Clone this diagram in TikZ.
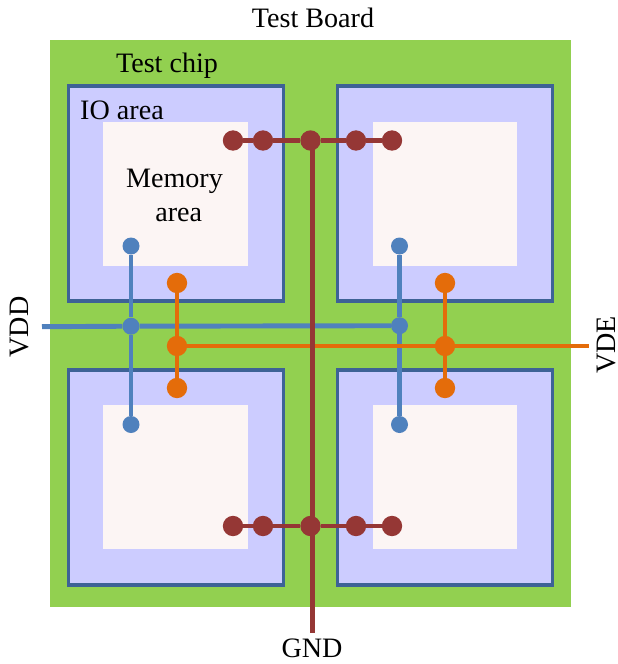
\documentclass[tikz,border=0pt]{standalone}
\usepackage{fontspec}
\setmainfont{Liberation Serif}
\definecolor{boardgreen}{HTML}{92D050}
\definecolor{chipblue}{HTML}{CCCCFF}
\definecolor{chipline}{HTML}{3D6296}
\definecolor{memwhite}{HTML}{FCF5F4}
\definecolor{vddblue}{HTML}{4F81BD}
\definecolor{vdeorange}{HTML}{E46C0A}
\definecolor{gndred}{HTML}{953735}
\tikzstyle{board}=[shape=rectangle,fill=boardgreen,inner sep=0pt,minimum width=15.63cm,minimum height=17.01cm]
\tikzstyle{chip}=[shape=rectangle,fill=chipblue,draw=chipline,line width=2.6pt,inner sep=0pt,minimum width=6.47cm,minimum height=6.45cm]
\tikzstyle{memory}=[shape=rectangle,fill=memwhite,inner sep=0pt,minimum width=4.33cm,minimum height=4.33cm]
\tikzstyle{label}=[font=\fontsize{24}{29}\selectfont,inner sep=0pt,align=center]
\tikzstyle{vddpad}=[shape=circle,fill=vddblue,inner sep=0pt,minimum size=0.51cm]
\tikzstyle{vdepad}=[shape=circle,fill=vdeorange,inner sep=0pt,minimum size=0.61cm]
\tikzstyle{gndpad}=[shape=circle,fill=gndred,inner sep=0pt,minimum size=0.61cm]
\tikzstyle{vddedge}=[draw=vddblue,line width=4.2pt]
\tikzstyle{vdeedge}=[draw=vdeorange,line width=4.1pt]
\tikzstyle{gndedge}=[draw=gndred,line width=4.1pt]

\begin{document}
\begin{tikzpicture}[x=0.03cm,y=-0.03cm]
\useasboundingbox (0,0) rectangle (618,664);
\node[board] (b0) at (310.5,323.5){};

\node[chip] (c1) at (176,193.5){};
\node[chip] (c2) at (445,193.5){};
\node[chip] (c3) at (176,477.5){};
\node[chip] (c4) at (445,477.5){};

\node[memory] (m1) at (175.5,194){};
\node[memory] (m2) at (445,194){};
\node[memory] (m3) at (175.5,477){};
\node[memory] (m4) at (445,477){};

\node[label] (tboard) at (313,18){Test Board};
\node[label] (tchip) at (167,66){Test chip};
\node[label] (tio) at (122,110.5){IO area};
\node[label] (tmem) at (174.5,195){Memory\\\hspace*{0.25cm}area};
\node[label,rotate=90] (tvdd) at (19.5,327){VDD};
\node[label,rotate=90] (tvde) at (606.5,345){VDE};
\node[label] (tgnd) at (312,648){GND};

% supply VDD
\coordinate (vddin) at (42,326.7);
\node[vddpad] (d1) at (131,246){};
\node[vddpad] (d2) at (131,326.2){} edge[vddedge] (d1) edge[vddedge] (vddin);
\node[vddpad] (d3) at (131,424.5){} edge[vddedge] (d2);
\node[vddpad] (d4) at (399.5,246){};
\node[vddpad] (d5) at (399.5,325.7){} edge[vddedge] (d4) edge[vddedge] (d2);
\node[vddpad] (d6) at (399.5,424.5){} edge[vddedge] (d5);

% supply VDE
\coordinate (vdein) at (589,346);
\node[vdepad] (e1) at (177,283){};
\node[vdepad] (e2) at (177,346){} edge[vdeedge] (e1);
\node[vdepad] (e3) at (177,388){} edge[vdeedge] (e2);
\node[vdepad] (e4) at (445,283){};
\node[vdepad] (e5) at (445,346){} edge[vdeedge] (e4) edge[vdeedge] (e2) edge[vdeedge] (vdein);
\node[vdepad] (e6) at (445,388){} edge[vdeedge] (e5);

% ground
\coordinate (gndin) at (312.3,633);
\coordinate (gndtop) at (312.3,140);
\node[gndpad] (g1) at (233,140.5){};
\node[gndpad] (g2) at (263,140.5){} edge[gndedge] (g1);
\node[gndpad] (g3) at (310.5,140.5){} edge[gndedge] (g2);
\node[gndpad] (g4) at (356,140.5){} edge[gndedge] (g3);
\node[gndpad] (g5) at (392,140.5){} edge[gndedge] (g4);
\node[gndpad] (g6) at (233,526){};
\node[gndpad] (g7) at (263,526){} edge[gndedge] (g6);
\node[gndpad] (g8) at (310.5,526){} edge[gndedge] (g7);
\node[gndpad] (g9) at (356,526){} edge[gndedge] (g8);
\node[gndpad] (g10) at (392,526){} edge[gndedge] (g9);
\draw[gndedge] (gndtop) -- (gndin);

\end{tikzpicture}
\end{document}
